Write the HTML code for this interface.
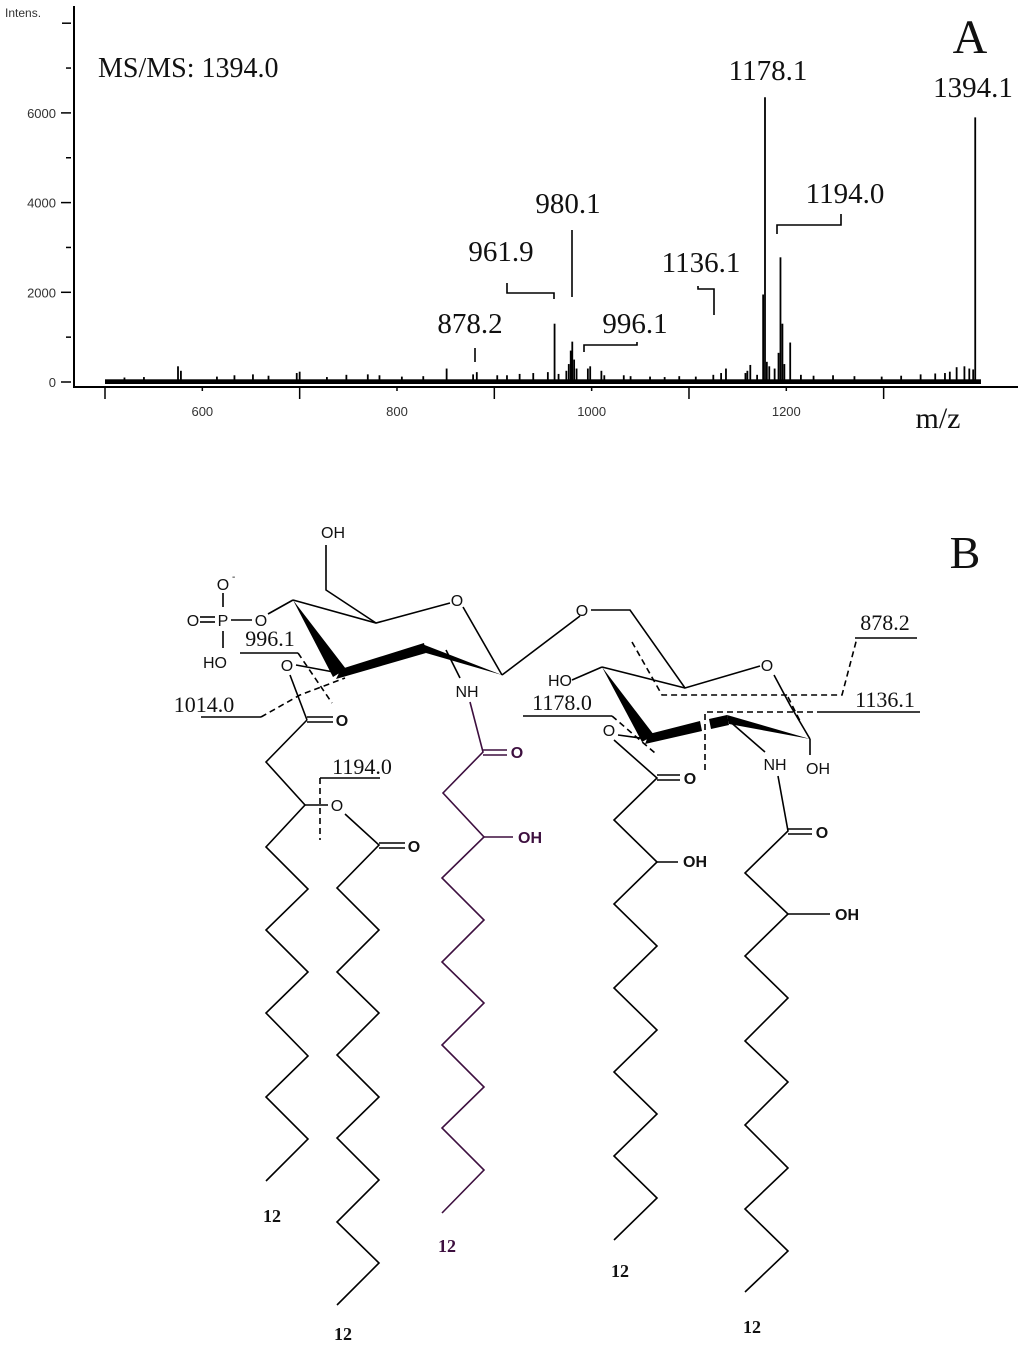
<!DOCTYPE html>
<html><head><meta charset="utf-8"><style>
html,body{margin:0;padding:0;background:#fff;}
svg{display:block;}
.ser{font-family:"Liberation Serif",serif;fill:#111;}
.san{font-family:"Liberation Sans",sans-serif;fill:#111;}
.tk{font-family:"Liberation Sans",sans-serif;font-size:13px;fill:#333;}
.ln{stroke:#000;stroke-width:1.6;fill:none;}
.ds{stroke:#000;stroke-width:1.6;fill:none;stroke-dasharray:6,4;}
.pu{stroke:#3d0f3f;stroke-width:1.6;fill:none;}
</style></head><body>
<svg id="root" width="1024" height="1348" viewBox="0 0 1024 1348" xmlns="http://www.w3.org/2000/svg">
<g id="spec"></g>
<g>
<text class="ser" x="98" y="77" font-size="28">MS/MS: 1394.0</text>
<text class="ser" x="970" y="53" font-size="48" text-anchor="middle">A</text>
<text class="ser" x="973" y="97" font-size="29" text-anchor="middle">1394.1</text>
<text class="ser" x="768" y="80" font-size="29" text-anchor="middle">1178.1</text>
<text class="ser" x="845" y="203" font-size="29" text-anchor="middle">1194.0</text>
<text class="ser" x="568" y="213" font-size="29" text-anchor="middle">980.1</text>
<text class="ser" x="501" y="261" font-size="29" text-anchor="middle">961.9</text>
<text class="ser" x="701" y="272" font-size="29" text-anchor="middle">1136.1</text>
<text class="ser" x="635" y="333" font-size="29" text-anchor="middle">996.1</text>
<text class="ser" x="470" y="333" font-size="29" text-anchor="middle">878.2</text>
<text class="ser" x="938" y="428" font-size="30" text-anchor="middle">m/z</text>
<text x="5" y="17" font-size="12" font-family="Liberation Sans, sans-serif" fill="#333">Intens.</text>
<polyline class="ln" points="475,348 475,362"/>
<polyline class="ln" points="507,283 507,293 554,293 554,299"/>
<polyline class="ln" points="572,230 572,297"/>
<polyline class="ln" points="584,352 584,345 637,345 637,342"/>
<polyline class="ln" points="698,286 698,289 714,289 714,315"/>
<polyline class="ln" points="777,234 777,225 841,225 841,214"/>
</g>

<g>
<text class="ser" x="965" y="568" font-size="46" text-anchor="middle">B</text>
<g>
<polyline class="ln" points="293,600 376,623 450,603"/>
<polyline class="ln" points="463,607 502,675"/>
<polygon points="293,600 333,677 346,669" fill="#000"/>
<polygon points="336,679 341,669 424,643 426,653" fill="#000"/>
<polygon points="422,644 426,653 502,675" fill="#000"/>
<polyline class="ln" points="376,623 326,590 326,545"/>
<text class="san" x="333" y="538" font-size="16" text-anchor="middle">OH</text>
<text class="san" x="457" y="606" font-size="16" text-anchor="middle">O</text>
<polyline class="ln" points="293,600 268,614"/>
<text class="san" x="261" y="626" font-size="16" text-anchor="middle">O</text>
<line class="ln" x1="231" y1="620" x2="252" y2="620"/>
<text class="san" x="223" y="626" font-size="16" text-anchor="middle">P</text>
<line class="ln" x1="200" y1="617" x2="215" y2="617"/><line class="ln" x1="200" y1="622" x2="215" y2="622"/>
<text class="san" x="193" y="626" font-size="16" text-anchor="middle">O</text>
<text class="san" x="223" y="590" font-size="16" text-anchor="middle">O</text>
<text class="san" x="232" y="580" font-size="10">-</text>
<line class="ln" x1="223" y1="593" x2="223" y2="607"/>
<line class="ln" x1="223" y1="631" x2="223" y2="648"/>
<text class="san" x="215" y="668" font-size="16" text-anchor="middle">HO</text>
<line class="ln" x1="339" y1="673" x2="296" y2="665"/>
<text class="san" x="287" y="671" font-size="16" text-anchor="middle">O</text>
<polyline class="ln" points="290,675 307,720"/>
<polyline class="ln" points="502,675 580,616"/>
<text class="san" x="582" y="616" font-size="16" text-anchor="middle">O</text>
</g>
<g>
<text class="ser" x="270" y="646" font-size="22" text-anchor="middle">996.1</text>
<line class="ln" x1="240" y1="653" x2="298" y2="653"/>
<polyline class="ds" points="298,653 332,703"/>
<text class="ser" x="204" y="712" font-size="22" text-anchor="middle">1014.0</text>
<line class="ln" x1="201" y1="717" x2="261" y2="717"/>
<polyline class="ds" points="261,717 300,695 345,678"/>
<text class="ser" x="362" y="774" font-size="22" text-anchor="middle">1194.0</text>
<line class="ln" x1="320" y1="778" x2="380" y2="778"/>
<polyline class="ds" points="320,778 320,840"/>
</g>
<g>
<polyline class="ln" points="307,720 266,762 305,805 266,847 308,889 266,930 308,972 266,1013 308,1056 266,1097 308,1139 266,1181"/>
<line class="ln" x1="307" y1="717" x2="333" y2="717"/><line class="ln" x1="307" y1="722" x2="333" y2="722"/>
<text class="san" x="342" y="726" font-size="16" font-weight="bold" text-anchor="middle">O</text>
<line class="ln" x1="305" y1="805" x2="328" y2="805"/>
<text class="san" x="337" y="811" font-size="16" text-anchor="middle">O</text>
<text class="ser" x="272" y="1222" font-size="18" font-weight="bold" text-anchor="middle">12</text>
</g>
<g>
<polyline class="ln" points="345,814 379,845 337,888 379,930 337,972 379,1013 337,1055 379,1097 337,1138 379,1180 337,1222 379,1263 337,1305"/>
<line class="ln" x1="379" y1="843" x2="405" y2="843"/><line class="ln" x1="379" y1="848" x2="405" y2="848"/>
<text class="san" x="414" y="852" font-size="16" font-weight="bold" text-anchor="middle">O</text>
<text class="ser" x="343" y="1340" font-size="18" font-weight="bold" text-anchor="middle">12</text>
</g>
<g>
<text class="san" x="467" y="697" font-size="16" text-anchor="middle">NH</text>
<polyline class="ln" points="446,650 460,678"/>
<polyline class="pu" points="470,702 483,752 443,793 484,837 442,878 484,920 442,962 484,1003 442,1045 484,1087 442,1128 484,1170 442,1213"/>
<line class="pu" x1="483" y1="750" x2="507" y2="750"/><line class="pu" x1="483" y1="755" x2="507" y2="755"/>
<text class="san" x="517" y="758" font-size="16" font-weight="bold" text-anchor="middle" style="fill:#3d0f3f">O</text>
<line class="pu" x1="484" y1="837" x2="513" y2="837"/>
<text class="san" x="530" y="843" font-size="16" font-weight="bold" text-anchor="middle" style="fill:#3d0f3f">OH</text>
<text class="ser" x="447" y="1252" font-size="18" font-weight="bold" text-anchor="middle" style="fill:#3d0f3f">12</text>
</g>
<g>
<polyline class="ln" points="591,610 630,610 685,688 760,666"/>
<polyline class="ln" points="602,667 685,688"/>
<polyline class="ln" points="572,680 602,667"/>
<text class="san" x="560" y="686" font-size="16" text-anchor="middle">HO</text>
<text class="san" x="767" y="671" font-size="16" text-anchor="middle">O</text>
<polyline class="ln" points="774,675 790,705 810,739"/>
<polygon points="602,667 642,742 654,735" fill="#000"/>
<polygon points="645,744 649,734 700,721 702,731" fill="#000"/>
<polygon points="709,719 727,715 729,725 711,729" fill="#000"/>
<polygon points="727,715 729,724 810,739" fill="#000"/>
<polyline class="ln" points="727,719 765,752"/>
<text class="san" x="775" y="770" font-size="16" text-anchor="middle">NH</text>
<line class="ln" x1="810" y1="739" x2="810" y2="755"/>
<text class="san" x="818" y="774" font-size="16" text-anchor="middle">OH</text>
<polyline class="ln" points="648,739 618,735"/>
<text class="san" x="609" y="736" font-size="16" text-anchor="middle">O</text>
</g>
<g>
<text class="ser" x="885" y="630" font-size="22" text-anchor="middle">878.2</text>
<line class="ln" x1="855" y1="638" x2="917" y2="638"/>
<polyline class="ds" points="632,642 662,695 842,695 857,638"/>
<text class="ser" x="885" y="707" font-size="22" text-anchor="middle">1136.1</text>
<polyline class="ds" points="705,770 705,712 820,712"/>
<line class="ln" x1="820" y1="712" x2="920" y2="712"/>
<polyline class="ds" points="788,697 800,721"/>
<text class="ser" x="562" y="710" font-size="22" text-anchor="middle">1178.0</text>
<line class="ln" x1="523" y1="716" x2="612" y2="716"/>
<polyline class="ds" points="612,716 655,753"/>
</g>
<g>
<polyline class="ln" points="614,740 657,778 614,820 657,862 614,904 657,946 614,988 657,1030 614,1072 657,1114 614,1156 657,1198 614,1240"/>
<line class="ln" x1="657" y1="775" x2="680" y2="775"/><line class="ln" x1="657" y1="780" x2="680" y2="780"/>
<text class="san" x="690" y="784" font-size="16" font-weight="bold" text-anchor="middle">O</text>
<line class="ln" x1="657" y1="862" x2="678" y2="862"/>
<text class="san" x="695" y="867" font-size="16" font-weight="bold" text-anchor="middle">OH</text>
<text class="ser" x="620" y="1277" font-size="18" font-weight="bold" text-anchor="middle">12</text>
</g>
<g>
<polyline class="ln" points="778,776 788,831 745,873 788,914 745,956 788,998 745,1041 788,1082 745,1125 788,1168 745,1209 788,1251 745,1292"/>
<line class="ln" x1="788" y1="829" x2="812" y2="829"/><line class="ln" x1="788" y1="834" x2="812" y2="834"/>
<text class="san" x="822" y="838" font-size="16" font-weight="bold" text-anchor="middle">O</text>
<line class="ln" x1="788" y1="914" x2="830" y2="914"/>
<text class="san" x="847" y="920" font-size="16" font-weight="bold" text-anchor="middle">OH</text>
<text class="ser" x="752" y="1333" font-size="18" font-weight="bold" text-anchor="middle">12</text>
</g>
</g>
</svg>
<script>
const yTickValues = [0, 2000, 4000, 6000];
const yMinorValues = [1000, 3000, 5000, 7000, 8000];
const xTickLabels = [600, 800, 1000, 1200];
const xMinorValues = [500, 700, 900, 1100, 1300];
const peakMz = [1394.1,1178.1,1176.2,1194.0,1196.0,1192.0,1204.0,1180.0,1182.5,1198.0,961.9,980.1,978.5,982.0,976.5,984.5,974.0,996.1,998.5,1010.0,1013.0,878.2,851.0,882.0,575.0,578.0,1138.0,1133.0,1160.0,1163.0,1375.0,1383.0,1388.0,1392.0,1158.0,1033.0,1107.0,1125.0,700.0,697.0,633.0,652.0,668.0,748.0,770.0,782.0,827.0,903.0,926.0,940.0,955.0,966.0,1248.0,1270.0,1318.0,1338.0,1353.0,1363.0,1368.0,1215.0,1228.0,1298.0,1060.0,1075.0,1090.0,615.0,540.0,520.0,728.0,805.0,913.0,1040.0,1170.0,1188.0];
const peakInt = [5900,6350,1950,2780,1300,650,880,450,350,400,1300,900,700,500,400,300,250,300,350,250,150,170,300,220,350,250,300,200,250,380,330,350,300,280,200,150,120,160,230,200,150,170,140,160,170,150,130,150,180,200,220,180,150,130,140,170,190,200,230,160,140,120,120,110,130,120,110,100,110,120,150,130,160,300];

const X = m => 105 + (m - 500) * 0.9733;
const Y = v => 382 - v * 0.04485;
const NS = 'http://www.w3.org/2000/svg';
const g = document.getElementById('spec');
function mk(tag, attrs){const e=document.createElementNS(NS,tag);for(const k in attrs)e.setAttribute(k,attrs[k]);g.appendChild(e);return e;}

let e = mk('line',{x1:74,y1:6,x2:74,y2:387,stroke:'#000','stroke-width':2});


e = mk('line',{x1:73,y1:387,x2:1018,y2:387,stroke:'#000','stroke-width':2});


e = mk('rect',{x:X(500),y:Y(60),width:X(1400)-X(500),height:Y(0)-Y(60)+2,fill:'#000'});



yTickValues.forEach(v=>{
  const t = mk('line',{x1:61,y1:Y(v),x2:71,y2:Y(v),stroke:'#000','stroke-width':1.5});
  
  
  const l = mk('text',{x:56,y:Y(v)+5,'text-anchor':'end',class:'tk'});
  l.textContent = v;
  
  
});
yMinorValues.forEach(v=>{
  const t = mk('line',{x1:v===8000?62:66,y1:Y(v),x2:71,y2:Y(v),stroke:'#000','stroke-width':1.5});
  
  
});
xTickLabels.forEach(v=>{
  const t = mk('line',{x1:X(v),y1:387,x2:X(v),y2:391,stroke:'#000','stroke-width':1.5});
  
  
  const l = mk('text',{x:X(v),y:416,'text-anchor':'middle',class:'tk'});
  l.textContent = v;
  
  
});
xMinorValues.forEach(v=>{
  const t = mk('line',{x1:X(v),y1:387,x2:X(v),y2:399,stroke:'#000','stroke-width':1.5});
  
  
});
peakMz.forEach((m,i)=>{
  const p = mk('line',{x1:X(m),y1:Y(0)+2,x2:X(m),y2:Y(peakInt[i]),stroke:'#000','stroke-width':1.8});
  
  
});
</script>
</body></html>
